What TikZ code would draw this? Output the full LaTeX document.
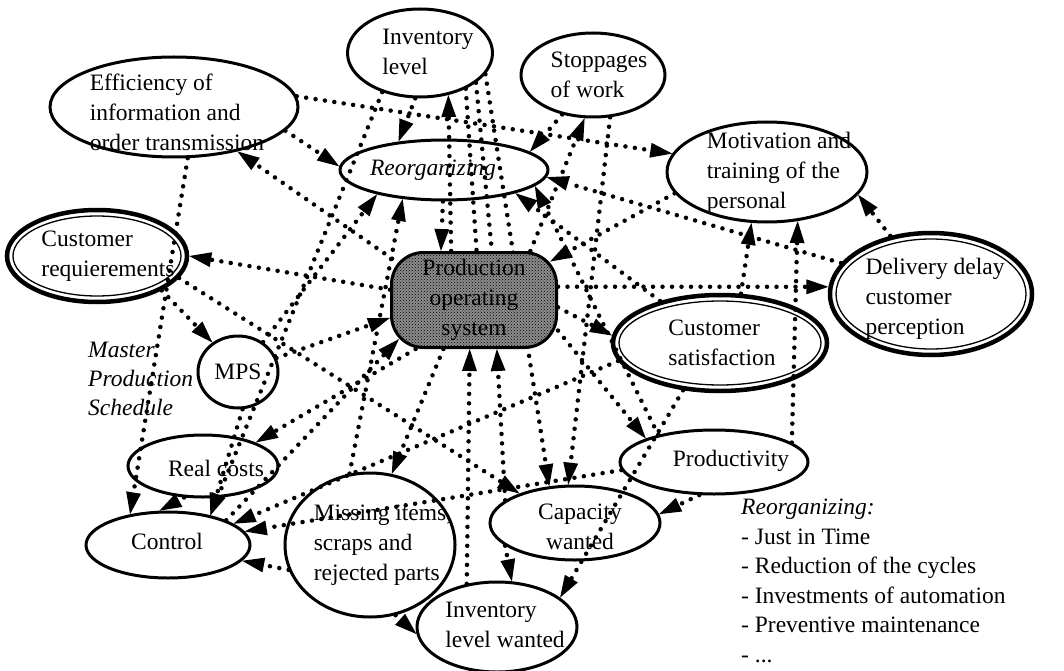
\documentclass[tikz,border=0pt]{standalone}
\usepackage{fontspec}
\setmainfont{Liberation Serif}
\usetikzlibrary{arrows.meta,shapes.geometric,patterns}
\pgfdeclarelayer{front}
\pgfsetlayers{main,front}
\begin{document}
\begin{tikzpicture}[x=1pt,y=-1pt,
  every node/.style={font=\fontsize{23.5}{30}\selectfont},
  ell/.style={draw, ellipse, line width=3pt, inner sep=0pt},
  dblell/.style={draw, ellipse, line width=4.5pt, inner sep=0pt},
  txt/.style={align=left, inner sep=0pt},
  dotl/.style={line width=4.5pt, line cap=round, dash pattern=on 0pt off 9.5pt},
  arr/.style={dotl, -{Triangle[length=22pt,width=15pt,line width=0pt]}},
  prodbox/.style={draw, line width=3pt, rounded corners=32pt, minimum width=165pt,
    minimum height=95pt, fill=black!45, postaction={pattern=crosshatch dots, pattern color=black},
    align=center, inner sep=0pt}
  ]
\useasboundingbox (0,0) rectangle (1064,671);

% ---------- ellipse nodes ----------
\node[ell, minimum width=145pt, minimum height=88pt] (inv) at (420,53) {};
\node[txt] (invt) at (428,52) {Inventory\\level};
\node[ell, minimum width=144pt, minimum height=84pt] (stop) at (593,75) {};
\node[txt] (stopt) at (599,75) {Stoppages\\of work};
\node[ell, minimum width=248pt, minimum height=100pt] (eff) at (174,107) {};
\node[txt] (efft) at (177,112) {Efficiency of\\information and\\order transmission};
\node[ell, minimum width=208pt, minimum height=60pt] (reorg) at (444,170) {};
\node[txt, font=\fontsize{23.5}{30}\selectfont\itshape] (reorgt) at (433,170) {Reorganizing};
\node[ell, minimum width=200pt, minimum height=100pt] (mot) at (767,172) {};
\node[txt] (mott) at (779,173) {Motivation and\\training of the\\personal};

\node[dblell, minimum width=180pt, minimum height=92pt] (creq) at (97,256) {};
\draw[line width=1.3pt] (creq.center) ellipse [x radius=84pt, y radius=40pt];
\node[txt] (creqt) at (108,256) {Customer\\requierements};

\node[dblell, minimum width=202pt, minimum height=122pt] (del) at (931,294) {};
\draw[line width=1.3pt] (del.center) ellipse [x radius=95pt, y radius=55pt];
\node[txt] (delt) at (935,299) {Delivery delay\\customer\\perception};

\node[dblell, minimum width=214pt, minimum height=96pt] (csat) at (720,343) {};
\draw[line width=1.3pt] (csat.center) ellipse [x radius=101pt, y radius=42pt];
\node[txt] (csatt) at (722,343) {Customer\\satisfaction};

\node[ell, minimum width=80pt, minimum height=72pt] (mps) at (238,372) {};
\node[txt] (mpst) at (238,372) {MPS};
\node[txt, anchor=west, font=\fontsize{23.5}{29}\selectfont\itshape] (mpsl) at (88,379) {Master\\Production\\Schedule};

\node[ell, minimum width=150pt, minimum height=62pt] (rc) at (203,466) {};
\node[txt] (rct) at (216,468) {Real costs};
\node[ell, minimum width=164pt, minimum height=66pt] (ctrl) at (168,545) {};
\node[txt] (ctrlt) at (167,541) {Control};
\node[ell, minimum width=170pt, minimum height=144pt] (miss) at (370,545) {};
\node[txt] (misst) at (383,545) {Missing items,\\scraps and\\rejected parts};
\node[ell, minimum width=160pt, minimum height=90pt] (ilw) at (497,627) {};
\node[txt] (ilwt) at (505,625) {Inventory\\level wanted};
\node[ell, minimum width=170pt, minimum height=74pt] (cap) at (575,523) {};
\node[txt, align=center] (capt) at (580,527) {Capacity\\wanted};
\node[ell, minimum width=188pt, minimum height=64pt] (prodv) at (714,462) {};
\node[txt] (prodvt) at (731,461) {Productivity};

\node[txt, anchor=north west, font=\fontsize{23.5}{29.5}\selectfont] (list) at (741,499)
  {\textit{Reorganizing:}\\- Just in Time\\- Reduction of the cycles\\- Investments of automation\\- Preventive maintenance\\- ...};

% ---------- central box (front layer) ----------
\begin{pgfonlayer}{front}
\node[prodbox] (prod) at (474,300) {Production\\operating\\system};
\end{pgfonlayer}

% ---------- connectors ----------
\draw[arr] (eff.-12) -- (reorg.178);
\draw[arr] (eff.5) -- (mot.169);
\draw[arr, shorten <=-12pt] (prod.153) -- (eff.-35);
\draw[arr] (eff.-75) -- (ctrl.141);
\draw[arr] (inv.-96) -- (reorg.148);
\draw[arr] (prod.115) -- (inv.-56);
\draw[arr] (inv.-134) -- (ctrl.35);
\draw[dotl] (inv.-38) -- (prod.87);
\draw[dotl] (inv.-28) -- (prod.70);
\draw[arr] (inv.-18) -- (cap.125);
\draw[arr] (stop.-128) -- (reorg.12);
\draw[arr] (prod.41) -- (stop.-101);
\draw[arr] (stop.-68) -- (cap.100);
\draw[arr] (del.161) -- (reorg.-4);
\draw[arr] (csat.145) -- (reorg.-18);
\draw[arr] (prodv.154) -- (reorg.-10);
\draw[arr] (mps.50) -- (reorg.-160);
\draw[arr] (miss.106) -- (reorg.-145);
\draw[arr] (reorg.-92) -- (prod.124);
\draw[arr] (prod.173) -- (creq.0);
\draw[arr] (creq.-28) -- (mps.131);
\draw[arr] (creq.-15) -- (cap.152);
\draw[arr] (mps.20) -- (prod.-168);
\draw[arr] (prod.-140) -- (rc.24);
\draw[arr, shorten >=-13pt] (ctrl.23) -- (prod.-150);
\draw[arr] (rc.-121) -- (ctrl.104);
\draw[arr] (mps.-83) -- (ctrl.35);
\draw[arr] (csat.-170) -- (ctrl.18);
\draw[arr] (prodv.-175) -- (ctrl.10);
\draw[arr] (miss.-163) -- (ctrl.-12);
\draw[arr] (miss.-70) -- (ilw.185);
\draw[arr] (prod.-122) -- (miss.73);
\draw[arr] (ilw.125) -- (prod.-95);
\draw[arr] (cap.162) -- (prod.-65);
\draw[arr] (cap.-162) -- (ilw.72);
\draw[arr] (csat.-128) -- (ilw.25);
\draw[arr] (prodv.-114) -- (cap.6);
\draw[arr] (prod.-20) -- (prodv.161);
\draw[arr] (prod.9) -- (del.176);
\draw[arr] (prod.-5) -- (csat.176);
\draw[arr] (csat.67) -- (mot.-107);
\draw[arr] (prodv.14) -- (mot.-58);
\draw[arr] (del.125) -- (mot.-14);
\draw[arr, shorten >=-9pt] (mot.-167) -- (prod.27);
\end{tikzpicture}
\end{document}
